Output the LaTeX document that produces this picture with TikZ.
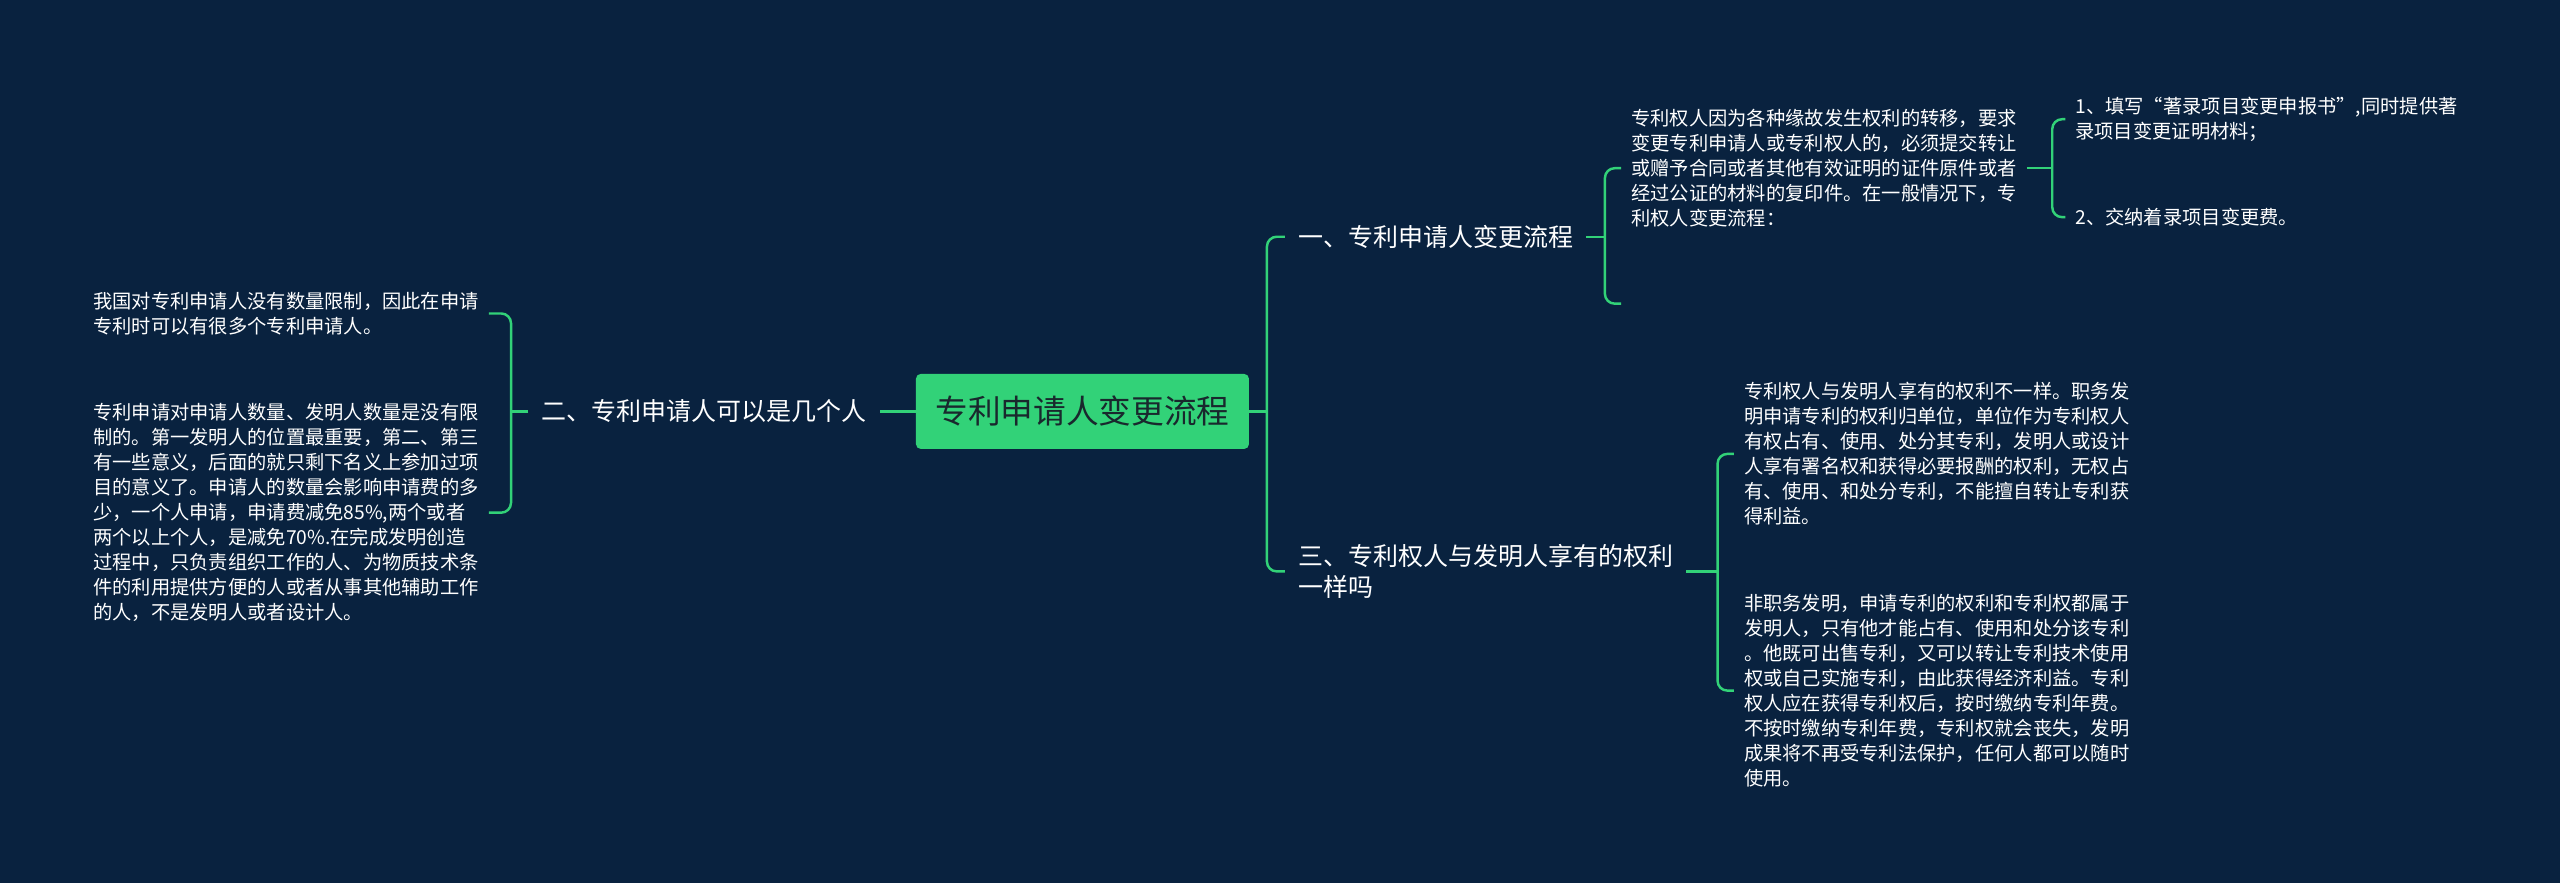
\documentclass[tikz,border=0pt]{standalone}
\usepackage{fontspec}
\newfontfamily\cjk{Noto Sans CJK SC}
\usetikzlibrary{calc}
\definecolor{bg}{RGB}{9,34,63}
\definecolor{gr}{RGB}{50,210,120}
\definecolor{rt}{RGB}{25,40,45}
\begin{document}
\begin{tikzpicture}[x=1pt,y=-1pt,
  conn/.style={draw=gr, line width=1.5pt, rounded corners=6pt},
  rootbox/.style={fill=gr, rounded corners=3pt, text=rt, font=\cjk\fontsize{20}{24}\selectfont, minimum width=204pt, minimum height=46pt, inner sep=0pt},
  lab/.style={text=white, font=\cjk\fontsize{15.3}{19}\selectfont, inner xsep=8pt, inner ysep=0pt, align=left},
  leaf/.style={text=white, font=\cjk\fontsize{11.8}{15.3}\selectfont, inner xsep=6pt, inner ysep=0pt, align=left}]
\fill[bg] (0,0) rectangle (1568,541);
\useasboundingbox (0,0) rectangle (1568,541);

\node[rootbox] (root) at (663,252) {专利申请人变更流程};
\node[lab, anchor=east] (l2) at (539,252) {二、专利申请人可以是几个人};
\node[lab, anchor=west] (l1) at (787,145) {一、专利申请人变更流程};
\node[lab, anchor=west] (l3) at (787,350) {三、专利权人与发明人享有的权利\\一样吗};

\node[leaf, anchor=west] (p1) at (993,103) {专利权人因为各种缘故发生权利的转移，要求\\
变更专利申请人或专利权人的，必须提交转让\\
或赠予合同或者其他有效证明的证件原件或者\\
经过公证的材料的复印件。在一般情况下，专\\
利权人变更流程：};
\coordinate (e1) at (993,186);

\node[leaf, anchor=west] (i1) at (1265,73) {1、填写“著录项目变更申报书”,同时提供著\\
录项目变更证明材料；};
\node[leaf, anchor=west] (i2) at (1265,133) {2、交纳着录项目变更费。};

\node[leaf, anchor=west] (p2) at (1062,278) {专利权人与发明人享有的权利不一样。职务发\\
明申请专利的权利归单位，单位作为专利权人\\
有权占有、使用、处分其专利，发明人或设计\\
人享有署名权和获得必要报酬的权利，无权占\\
有、使用、和处分专利，不能擅自转让专利获\\
得利益。};

\node[leaf, anchor=west] (p3) at (1062,423) {非职务发明，申请专利的权利和专利权都属于\\
发明人，只有他才能占有、使用和处分该专利\\
。他既可出售专利，又可以转让专利技术使用\\
权或自己实施专利，由此获得经济利益。专利\\
权人应在获得专利权后，按时缴纳专利年费。\\
不按时缴纳专利年费，专利权就会丧失，发明\\
成果将不再受专利法保护，任何人都可以随时\\
使用。};

\node[leaf, anchor=west] (a1) at (51,192) {我国对专利申请人没有数量限制，因此在申请\\
专利时可以有很多个专利申请人。};

\node[leaf, anchor=west] (a2) at (51,314) {专利申请对申请人数量、发明人数量是没有限\\
制的。第一发明人的位置最重要，第二、第三\\
有一些意义，后面的就只剩下名义上参加过项\\
目的意义了。申请人的数量会影响申请费的多\\
少，一个人申请，申请费减免85\%,两个或者\\
两个以上个人，是减免70\%.在完成发明创造\\
过程中，只负责组织工作的人、为物质技术条\\
件的利用提供方便的人或者从事其他辅助工作\\
的人，不是发明人或者设计人。};

\coordinate (bxR) at (776,0);
\coordinate (bxL) at (313,0);
\coordinate (bx1) at (983,0);
\coordinate (bx2) at (1257,0);
\coordinate (bx3) at (1052,0);

\draw[conn] (root.east) -- (root.east -| bxR);
\draw[conn] (l1.west) -- (l1.west -| bxR) -- (l3.west -| bxR) -- (l3.west);

\draw[conn] (root.west) -- (l2.east);
\draw[conn] (l2.west) -- (l2.west -| bxL);
\draw[conn] (a1.east) -- (a1.east -| bxL) -- (a2.east -| bxL) -- (a2.east);

\draw[conn] (l1.east) -- (l1.east -| bx1);
\draw[conn] (p1.west) -- (p1.west -| bx1) -- (e1 -| bx1) -- (e1);

\draw[conn] (p1.east) -- (p1.east -| bx2);
\draw[conn] (i1.west) -- (i1.west -| bx2) -- (i2.west -| bx2) -- (i2.west);

\draw[conn] (l3.east) -- (l3.east -| bx3);
\draw[conn] (p2.west) -- (p2.west -| bx3) -- (p3.west -| bx3) -- (p3.west);
\end{tikzpicture}
\end{document}
